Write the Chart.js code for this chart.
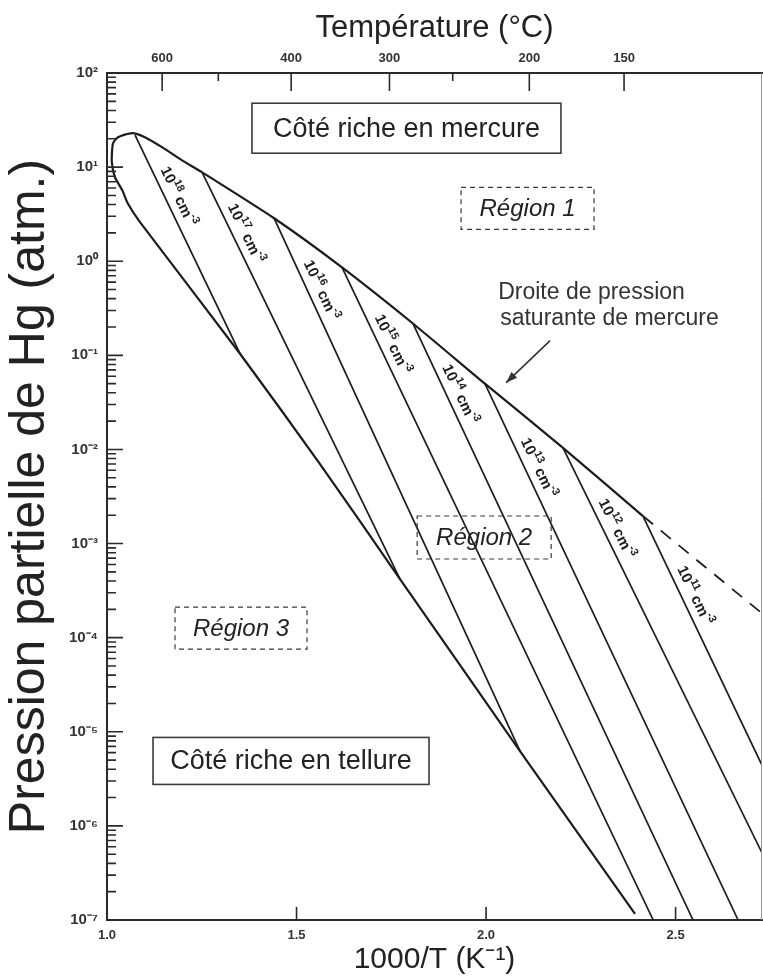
<!DOCTYPE html>
<html>
<head>
<meta charset="utf-8">
<script src="https://cdn.jsdelivr.net/npm/chart.js@4.4.0/dist/chart.umd.min.js"></script>
<style>
  html, body { margin: 0; padding: 0; background: #fff; }
  #wrap { width: 763px; height: 978px; }
</style>
</head>
<body>
<div id="wrap"><canvas id="myChart" width="763" height="978"></canvas></div>
<script>
// axis ranges : 1000/T (K-1) and Hg partial pressure (atm)
const xMin = 1.0, xMax = 2.728;
const yMin = 1e-7, yMax = 1e2;

// Te-rich boundary -> loop -> Hg saturation line (one outline)
const boundaryX = [2.393, 2.090, 1.773, 1.562, 1.351, 1.087, 1.055, 1.040, 1.021, 1.013, 1.013, 1.016, 1.029, 1.066, 1.100, 1.145, 1.198, 1.251, 1.441, 1.620, 1.807, 1.997, 2.203, 2.414];
const boundaryP = [1.16e-7, 6.2e-6, 4.2e-4, 7.0e-3, 0.104, 2.6, 4.1, 5.7, 7.8, 11.0, 14.1, 18.0, 20.8, 23.0, 20.8, 16.3, 11.8, 8.8, 2.86, 0.86, 0.218, 0.050, 0.0104, 1.96e-3];

// extrapolated saturation line (dashed)
const satDashX = [2.414, 2.731];
const satDashP = [1.96e-3, 1.77e-4];

// iso-concentration lines (cm-3)
const isoExp = [18, 17, 16, 15, 14, 13, 12, 11];
const isoStartX = [1.074, 1.251, 1.441, 1.620, 1.807, 1.997, 2.203, 2.414];
const isoStartP = [21.9, 8.8, 2.86, 0.86, 0.218, 0.050, 0.0104, 1.96e-3];
const isoEndX = [1.351, 1.773, 2.090, 2.441, 2.546, 2.665, 2.815, 2.923];
const isoEndP = [0.104, 4.2e-4, 6.2e-6, 1e-7, 1e-7, 1e-7, 1e-7, 1e-7];

// ticks
const xTicks = [1.0, 1.5, 2.0, 2.5];
const tempMajor = [600, 400, 300, 200, 150];
const tempMinor = [500, 250];
const yDecades = [-7, -6, -5, -4, -3, -2, -1, 0, 1, 2];

const FONT = '"Liberation Sans", Arial, sans-serif';
const INK = '#1c1c1c';
const toK = t => 1000 / (t + 273);
const SUP = {'-': '⁻', '0': '⁰', '1': '¹', '2': '²', '3': '³', '4': '⁴', '5': '⁵', '6': '⁶', '7': '⁷', '8': '⁸', '9': '⁹'};
const sup = n => String(n).split('').map(c => SUP[c]).join('');

// label placement along each iso line (px from its top end)
const labelDist = [74, 74, 85, 91, 84, 99, 96, 94];

// text boxes, centred on data coords
const notes = [
  { text: 'Côté riche en mercure', x: 1.790, y: 25.9, w: 309, h: 50, dash: false, font: '27px ' + FONT },
  { text: 'Région 1', x: 2.1095, y: 3.65, w: 133, h: 42, dash: true, font: 'italic 24px ' + FONT },
  { text: 'Région 2', x: 1.995, y: 1.16e-3, w: 134, h: 43, dash: true, font: 'italic 24px ' + FONT },
  { text: 'Région 3', x: 1.3536, y: 1.26e-4, w: 132, h: 42, dash: true, font: 'italic 24px ' + FONT },
  { text: 'Côté riche en tellure', x: 1.4855, y: 4.9e-6, w: 276, h: 47, dash: false, font: '27px ' + FONT }
];

function richText(ctx, parts, size) {
  const widths = parts.map(([t, s]) => {
    ctx.font = 'bold ' + (s ? size * 0.72 : size) + 'px ' + FONT;
    return ctx.measureText(t).width;
  });
  let x = -widths.reduce((a, b) => a + b, 0) / 2;
  parts.forEach(([t, s], i) => {
    ctx.font = 'bold ' + (s ? size * 0.72 : size) + 'px ' + FONT;
    ctx.fillText(t, x, s ? -size * 0.38 : 0);
    x += widths[i];
  });
}

const extras = {
  id: 'extras',
  afterDatasetsDraw(chart) {
    const { ctx, chartArea: a, scales: { x, y, x2 } } = chart;
    ctx.save();

    // right frame edge
    ctx.strokeStyle = '#999';
    ctx.lineWidth = 1;
    ctx.beginPath();
    ctx.moveTo(a.right - 0.5, a.top);
    ctx.lineTo(a.right - 0.5, a.bottom);
    ctx.stroke();

    // inward tick marks
    ctx.strokeStyle = '#2a2a2a';
    ctx.lineWidth = 1.6;
    ctx.beginPath();
    yDecades.forEach(e => {
      const py = y.getPixelForValue(Math.pow(10, e));
      ctx.moveTo(a.left, py); ctx.lineTo(a.left + 16, py);
      if (e < 2) {
        for (let m = 2; m <= 9; m++) {
          const pm = y.getPixelForValue(m * Math.pow(10, e));
          ctx.moveTo(a.left, pm); ctx.lineTo(a.left + 9, pm);
        }
      }
    });
    xTicks.forEach(v => {
      const px = x.getPixelForValue(v);
      ctx.moveTo(px, a.bottom); ctx.lineTo(px, a.bottom - 13);
    });
    tempMajor.forEach(t => {
      const px = x2.getPixelForValue(toK(t));
      ctx.moveTo(px, a.top); ctx.lineTo(px, a.top + 18);
    });
    tempMinor.forEach(t => {
      const px = x2.getPixelForValue(toK(t));
      ctx.moveTo(px, a.top); ctx.lineTo(px, a.top + 8);
    });
    ctx.stroke();

    // concentration labels along the iso lines
    ctx.fillStyle = INK;
    ctx.textAlign = 'left';
    ctx.textBaseline = 'middle';
    isoExp.forEach((e, i) => {
      const x0 = x.getPixelForValue(isoStartX[i]), y0 = y.getPixelForValue(isoStartP[i]);
      const x1 = x.getPixelForValue(isoEndX[i]), y1 = y.getPixelForValue(isoEndP[i]);
      const len = Math.hypot(x1 - x0, y1 - y0);
      const ux = (x1 - x0) / len, uy = (y1 - y0) / len;
      const cx = x0 + ux * labelDist[i] + uy * 12;
      const cy = y0 + uy * labelDist[i] - ux * 12;
      ctx.save();
      ctx.translate(cx, cy);
      ctx.rotate(Math.atan2(uy, ux));
      richText(ctx, [['10', false], [String(e), true], [' cm', false], ['-3', true]], 15);
      ctx.restore();
    });

    // boxed notes
    notes.forEach(n => {
      const cx = x.getPixelForValue(n.x), cy = y.getPixelForValue(n.y);
      ctx.strokeStyle = '#3a3a3a';
      ctx.lineWidth = n.dash ? 1.2 : 1.6;
      ctx.setLineDash(n.dash ? [5, 4] : []);
      ctx.strokeRect(cx - n.w / 2, cy - n.h / 2, n.w, n.h);
      ctx.setLineDash([]);
      ctx.font = n.font;
      ctx.fillStyle = '#222';
      ctx.textAlign = 'center';
      ctx.textBaseline = 'middle';
      ctx.fillText(n.text, cx, cy + 1);
    });

    // saturation-line caption and arrow
    ctx.font = '23px ' + FONT;
    ctx.fillStyle = '#333';
    ctx.textAlign = 'left';
    const tx = x.getPixelForValue(2.032);
    ctx.fillText('Droite de pression', tx, y.getPixelForValue(0.466));
    ctx.fillText('saturante de mercure', tx + 2, y.getPixelForValue(0.246));

    const ax0 = x.getPixelForValue(2.169), ay0 = y.getPixelForValue(0.1435);
    const ax1 = x.getPixelForValue(2.053), ay1 = y.getPixelForValue(0.0512);
    const ang = Math.atan2(ay1 - ay0, ax1 - ax0);
    ctx.strokeStyle = '#333';
    ctx.lineWidth = 1.6;
    ctx.beginPath();
    ctx.moveTo(ax0, ay0); ctx.lineTo(ax1, ay1);
    ctx.stroke();
    ctx.fillStyle = '#333';
    ctx.beginPath();
    ctx.moveTo(ax1, ay1);
    ctx.lineTo(ax1 - 12 * Math.cos(ang - 0.35), ay1 - 12 * Math.sin(ang - 0.35));
    ctx.lineTo(ax1 - 12 * Math.cos(ang + 0.35), ay1 - 12 * Math.sin(ang + 0.35));
    ctx.closePath();
    ctx.fill();

    ctx.restore();
  }
};

Chart.defaults.font.family = FONT;

const lineStyle = { showLine: true, pointRadius: 0, borderColor: INK, fill: false };
const toPts = (xs, ps) => xs.map((v, i) => ({ x: v, y: ps[i] }));

const ctx = document.getElementById('myChart').getContext('2d');

const myChart = new Chart(ctx, {
  type: 'scatter',
  data: {
    datasets: [
      { ...lineStyle, data: toPts(boundaryX, boundaryP), borderWidth: 2.2, tension: 0.2 },
      { ...lineStyle, data: toPts(satDashX, satDashP), borderWidth: 1.8, borderDash: [13, 10] },
      ...isoExp.map((e, i) => ({
        ...lineStyle,
        data: [{ x: isoStartX[i], y: isoStartP[i] }, { x: isoEndX[i], y: isoEndP[i] }],
        borderWidth: 1.7
      }))
    ]
  },
  options: {
    responsive: false,
    animation: false,
    devicePixelRatio: 1,
    layout: { padding: { right: 1 } },
    plugins: { legend: { display: false }, tooltip: { enabled: false } },
    scales: {
      x: {
        type: 'linear', position: 'bottom', min: xMin, max: xMax,
        afterBuildTicks: s => { s.ticks = xTicks.map(v => ({ value: v })); },
        afterFit: s => { s.height = 58; },
        ticks: { callback: v => v.toFixed(1), font: { size: 13, weight: 'bold' }, color: '#333', padding: 8, maxRotation: 0 },
        grid: { display: false, drawTicks: false },
        border: { display: true, color: '#2a2a2a', width: 2 },
        title: { display: true, text: '1000/T (K⁻¹)', font: { size: 30 }, color: '#222', padding: { top: 0, bottom: 0 } }
      },
      x2: {
        type: 'linear', axis: 'x', position: 'top', min: xMin, max: xMax,
        afterBuildTicks: s => { s.ticks = tempMajor.map(t => ({ value: toK(t) })); },
        afterFit: s => { s.height = 73; },
        ticks: { callback: (v, i) => String(tempMajor[i]), font: { size: 13, weight: 'bold' }, color: '#333', padding: 7, maxRotation: 0 },
        grid: { display: false, drawTicks: false },
        border: { display: true, color: '#2a2a2a', width: 2 },
        title: { display: true, text: 'Température (°C)', font: { size: 31 }, color: '#222', padding: { top: 10, bottom: 0 } }
      },
      y: {
        type: 'logarithmic', position: 'left', min: yMin, max: yMax,
        afterBuildTicks: s => { s.ticks = yDecades.map(e => ({ value: Math.pow(10, e) })); },
        afterFit: s => { s.width = 107; },
        ticks: { callback: v => '10' + sup(Math.round(Math.log10(v))), font: { size: 15, weight: 'bold' }, color: '#333', padding: 9 },
        grid: { display: false, drawTicks: false },
        border: { display: true, color: '#2a2a2a', width: 2 },
        title: { display: true, text: 'Pression partielle de Hg (atm.)', font: { size: 50 }, color: '#222', padding: { top: 0, bottom: 0 } }
      }
    }
  },
  plugins: [extras]
});
</script>
</body>
</html>
